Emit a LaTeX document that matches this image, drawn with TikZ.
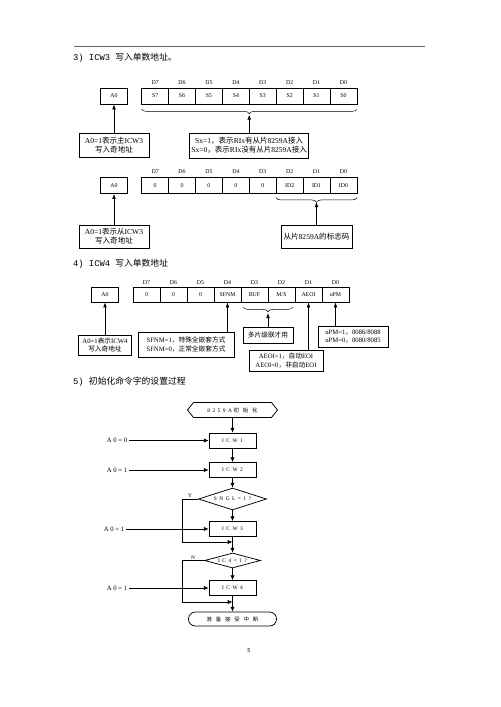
\documentclass[tikz,border=0pt]{standalone}
\usepackage{fontspec}
\setmainfont{Liberation Serif}
\setmonofont{Liberation Mono}
\newfontfamily\zh{Noto Sans CJK SC}
\newfontfamily\flowzh[LetterSpace=70]{Noto Sans CJK SC}
\newfontfamily\flowrm[LetterSpace=45]{Liberation Serif}
\usetikzlibrary{shapes.geometric,shapes.misc,shapes.symbols,decorations.pathreplacing,arrows.meta}
\begin{document}
\begin{tikzpicture}[x=0.042cm,y=-0.042cm,head/.style={anchor=west,inner sep=0pt,font=\fontsize{10.5}{12}\selectfont},bitcell/.style={draw,line width=0.6pt,minimum width=1.13cm,minimum height=0.67cm,inner sep=0pt,font=\fontsize{7}{8}\selectfont},dlabel/.style={inner sep=0pt,font=\fontsize{7}{8}\selectfont},note/.style={draw,line width=0.8pt,align=center,inner sep=1pt,font=\fontsize{9}{10.7}\selectfont},smallnote/.style={note,font=\fontsize{8}{10}\selectfont},brc/.style={decorate,decoration={brace,amplitude=0.2cm},line width=0.6pt},arr/.style={line width=0.9pt,-{Latex[length=2.2mm,width=1.6mm]}},flowbox/.style={draw,line width=0.9pt,minimum width=1.97cm,minimum height=0.63cm,inner sep=0pt,font=\fontsize{6.5}{8}\flowrm},decide/.style={diamond,draw,line width=0.9pt,inner sep=0pt,font=\fontsize{6.5}{7}\flowrm},hexa/.style={signal,signal to=east and west,signal pointer angle=103,draw,line width=0.9pt,minimum width=3.78cm,minimum height=0.63cm,inner sep=0pt,font=\fontsize{6.5}{8}\selectfont},term/.style={rounded rectangle,draw,line width=0.9pt,minimum width=3.7cm,minimum height=0.59cm,inner sep=0pt,font=\fontsize{6.5}{8}\selectfont},a0lab/.style={anchor=east,inner sep=2pt,font=\fontsize{8}{9}\selectfont},yn/.style={inner sep=1pt,font=\fontsize{6.5}{7}\selectfont},farr/.style={line width=0.9pt,-{Latex[length=2mm,width=1.8mm]}}]
\useasboundingbox (0,0) rectangle (500,707);
\draw[black!60,line width=0.8pt] (74,46) -- (425,46);

\node[head] (h3) at (73,58) {{\ttfamily 3) ICW3 }{\zh 写入单数地址。}};
\node[bitcell] (a0a) at (114,96) {A0};
\foreach \t [count=\i from 0] in {S7,S6,S5,S4,S3,S2,S1,S0}{
  \pgfmathtruncatemacro\d{7-\i}
  \node[bitcell] (ra\i) at ({141.7+26.9*(\i+0.5)},96) {\t};
  \node[dlabel] (da\i) at ({141.7+26.9*(\i+0.5)},83) {D\d};
}
\draw[brc] ([yshift=-2mm]ra7.south east) -- ([yshift=-2mm]ra0.south west);
\coordinate (ta) at (249.2,114.5);
\node[note,minimum width=2.94cm,minimum height=1.03cm] (mnote) at (114,145.5) {A0=1{\zh 表示主}ICW3\\{\zh 写入奇地址}};
\node[note,minimum width=5cm,minimum height=1.05cm] (sxnote) at (249.2,145.5) {Sx=1{\zh ，表示}RIx{\zh 有从片}8259A{\zh 接入}\\Sx=0{\zh ，表示}RIx{\zh 没有从片}8259A{\zh 接入}};
\draw[arr] (mnote) -- (a0a);
\draw[arr] (sxnote) -- (ta);

\node[bitcell] (a0b) at (114,185.5) {A0};
\foreach \t [count=\i from 0] in {0,0,0,0,0,ID2,ID1,ID0}{
  \pgfmathtruncatemacro\d{7-\i}
  \node[bitcell] (rb\i) at ({141.7+26.9*(\i+0.5)},185.5) {\t};
  \node[dlabel] (db\i) at ({141.7+26.9*(\i+0.5)},172) {D\d};
}
\draw[brc] ([yshift=-1.6mm]rb7.south east) -- ([yshift=-1.6mm]rb5.south west);
\coordinate (tb) at (316.5,202);
\node[note,minimum width=2.94cm,minimum height=0.97cm] (snote) at (114,236.5) {A0=1{\zh 表示从}ICW3\\{\zh 写入奇地址}};
\node[note,minimum width=2.98cm,minimum height=0.97cm] (idnote) at (316.5,236.5) {{\zh 从片}8259A{\zh 的标志码}};
\draw[arr] (snote) -- (a0b);
\draw[arr] (idnote) -- (tb);

\node[head] (h4) at (73,264) {{\ttfamily 4) ICW4 }{\zh 写入单数地址}};
\node[bitcell,minimum height=0.63cm] (a0c) at (105,294.5) {A0};
\foreach \t [count=\i from 0] in {0,0,0,SFNM,BUF,M/S,AEOI,uPM}{
  \pgfmathtruncatemacro\d{7-\i}
  \node[bitcell,minimum width=1.134cm,minimum height=0.63cm] (rc\i) at ({133+27*(\i+0.5)},294.5) {\t};
  \node[dlabel] (dc\i) at ({133+27*(\i+0.5)},283) {D\d};
}
\draw[brc] ([xshift=-0.1cm,yshift=-2mm]rc5.south east) -- ([xshift=0.1cm,yshift=-2mm]rc4.south west);
\coordinate (tc) at (268,313);
\node[smallnote,minimum width=2.23cm,minimum height=0.84cm] (a0note) at (105,345) {A0=1{\zh 表示}ICW4\\{\zh 写入奇地址}};
\node[smallnote,minimum width=4.03cm,minimum height=1.05cm] (sfnote) at (186,344.5) {SFNM=1{\zh ，特殊全嵌套方式}\\SFNM=0{\zh ，正常全嵌套方式}};
\node[smallnote,minimum width=2.1cm,minimum height=0.67cm] (casnote) at (268,335) {{\zh 多片级联才用}};
\node[smallnote,minimum width=3.1cm,minimum height=0.88cm] (aenote) at (286,360.5) {AEOI=1{\zh ，自动}EOI\\AEOI=0{\zh ，非自动}EOI};
\node[smallnote,minimum width=2.94cm,minimum height=0.88cm] (upnote) at (353,336.5) {uPM=1{\zh ，}8086/8088\\uPM=0{\zh ，}8080/8085};
\draw[arr] (a0note) -- (a0c);
\draw[arr] (sfnote.north -| rc3) -- (rc3);
\draw[arr] (casnote) -- (tc);
\draw[arr] (aenote.north -| rc6) -- (rc6);
\draw[arr] (upnote.north -| rc7) -- (rc7);

\node[head] (h5) at (73,382) {{\ttfamily 5) }{\zh 初始化命令字的设置过程}};
\node[hexa] (init) at (232.5,410) {{\flowrm 8259A}\hspace{2pt}{\flowzh 初始化}};
\node[flowbox] (icw1) at (232.5,440.5) {ICW1};
\node[flowbox] (icw2) at (232.5,470) {ICW2};
\node[decide,aspect=3.1,minimum width=2.86cm,minimum height=0.92cm] (sngl) at (232.5,499) {SNGL=1?};
\node[flowbox] (icw3) at (232.5,529) {ICW3};
\coordinate (mg1) at (232.5,542);
\node[decide,aspect=3.7,minimum width=2.35cm,minimum height=0.63cm] (ic4) at (232.5,560.5) {IC4=1?};
\node[flowbox] (icw4) at (232.5,588) {ICW4};
\coordinate (mg2) at (232.5,602);
\node[term] (rdy) at (232.5,619) {{\flowzh 准备接受中断}};
\coordinate (lp) at (182,0);
\node[a0lab] (la1) at (129,440.5) {A 0 = 0};
\node[a0lab] (la2) at (129,470) {A 0 = 1};
\node[a0lab] (la3) at (126,529) {A 0 = 1};
\node[a0lab] (la4) at (129,588) {A 0 = 1};
\draw[farr] (init) -- (icw1);
\draw[farr] (icw1) -- (icw2);
\draw[farr] (icw2) -- (sngl);
\draw[farr] (sngl) -- (icw3);
\draw[farr] (icw3) -- (ic4);
\draw[farr] (ic4) -- (icw4);
\draw[farr] (icw4) -- (rdy);
\draw[farr] (la1) -- (icw1);
\draw[farr] (la2) -- (icw2);
\draw[farr] (la3) -- (icw3);
\draw[farr] (la4) -- (icw4);
\draw[farr] (sngl.west) -- node[yn,above]{Y} (lp |- sngl.west) |- (mg1);
\draw[farr] (ic4.west) -- node[yn,above]{N} (lp |- ic4.west) |- (mg2);

\node[font=\fontsize{7}{8}\sffamily] (pg) at (249,651) {5};
\end{tikzpicture}
\end{document}
